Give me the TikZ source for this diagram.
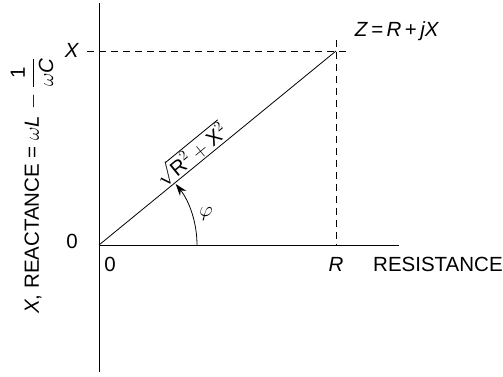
\documentclass[tikz,border=0pt]{standalone}
\usepackage{fontspec}
\setmainfont{Liberation Sans}
\usetikzlibrary{arrows.meta}
\begin{document}
\begin{tikzpicture}[x=1pt,y=1pt,>={Stealth[length=12pt,width=8pt]},font=\fontsize{20.5}{24}\selectfont]
\useasboundingbox (0,0) rectangle (503,377);
\tikzset{axis/.style={line width=0.9pt},
  dashline/.style={dashed,dash pattern=on 7pt off 5pt,line width=0.8pt},
  lbl/.style={inner sep=1pt}}
% axes
\coordinate (O) at (99,132);
\coordinate (ytop) at (99,374);
\coordinate (ybot) at (99,5);
\coordinate (xend) at (399,132);
\coordinate (Z) at (336,326);
\coordinate (xl) at (87,326);
\coordinate (xr) at (350,326);
\coordinate (rt) at (336,337);
\coordinate (rb) at (336,132);
\coordinate (arcstart) at (197,132);
\draw[axis] (ybot) -- (ytop);
\draw[axis] (O) -- (xend);
% projections
\draw[dashline] (xl) -- (xr);
\draw[dashline] (rt) -- (rb);
% phasor
\draw[line width=0.8pt] (O) -- node[pos=0.42,above,sloped,lbl] {$\sqrt{\mbox{R}^2+\mbox{X}^2}$} (Z);
\draw[->,line width=0.8pt] (arcstart) arc (0:38.5:98);
% labels
\node[lbl] (xlab) at (72,327) {\textit{X}};
\node[lbl] (zero1) at (72,136) {0};
\node[lbl] (zero2) at (110,113) {0};
\node[lbl] (rlab) at (336,113) {\textit{R}};
\node[lbl,anchor=west] (res) at (372,113) {RESISTANCE};
\node[lbl] (zlab) at (397,346) {\textit{Z}\,=\,\textit{R}\,+\,\textit{jX}};
\node[lbl] (phi) at (206,163) {$\varphi$};
\node[lbl,rotate=90,anchor=west] (ylab) at (32,62) {\textit{X}, REACTANCE = $\omega$\textit{L} $-$ $\displaystyle\frac{\mbox{1}}{\omega\mbox{\itshape C}}$};
\end{tikzpicture}
\end{document}
